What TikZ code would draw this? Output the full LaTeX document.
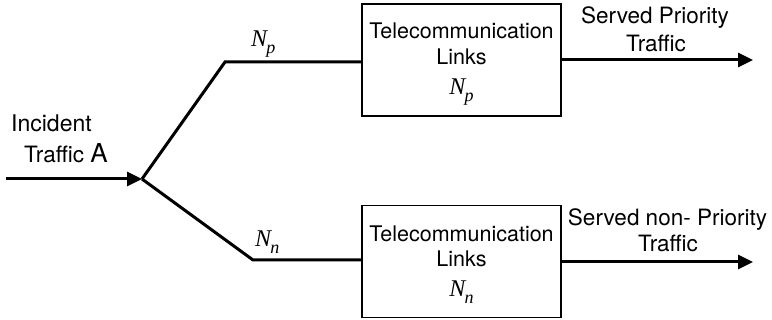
\documentclass[tikz,border=0pt]{standalone}
\usepackage{fontspec}
\setmainfont{TeX Gyre Heros}
\newfontfamily\tmsfont{Liberation Serif}
\usetikzlibrary{arrows.meta}
% italic N with a lowered subscript letter
\newcommand{\Nsub}[1]{{\tmsfont\itshape N\kern-0.04em\raisebox{-0.26em}{\fontsize{18}{18}\selectfont #1}}}
\begin{document}
\begin{tikzpicture}[x=1pt,y=-1pt,
  txt/.style={font=\fontsize{21.5}{21.5}\selectfont, inner sep=0pt, anchor=base},
  bigtxt/.style={font=\fontsize{22.5}{22.5}\selectfont, inner sep=0pt, anchor=base},
  mtxt/.style={font=\fontsize{24}{24}\selectfont, inner sep=0pt, anchor=base},
  wire/.style={line width=3pt},
  flow/.style={line width=3pt, -{Triangle[length=15pt,width=14pt]}},
  linkbox/.style={draw, line width=1.4pt, minimum width=199pt, minimum height=112pt, inner sep=0pt}]
\useasboundingbox (0,0) rectangle (772,320);

% incoming traffic
\coordinate (src) at (6,179);
\coordinate (split) at (142,179);
\node[bigtxt, font=\fontsize{23}{23}\selectfont, anchor=base west] (inc1) at (11,132) {Incident};
\node[bigtxt, anchor=base west] (inc2) at (24,163) {Traffic \fontsize{26}{26}\selectfont A};
\draw[flow] (src) -- (split);

% link groups
\node[linkbox] (boxp) at (461.5,60) {};
\node[linkbox] (boxn) at (461.5,261.5) {};

\node[txt] (tp1) at (461.5,39) {Telecommunication};
\node[txt] (tp2) at (461.5,65) {Links};
\node[mtxt] (tp3) at (461.5,95) {\Nsub{p}};
\node[txt] (tn1) at (461.5,242) {Telecommunication};
\node[txt] (tn2) at (461.5,267) {Links};
\node[mtxt] (tn3) at (461.5,297) {\Nsub{n}};

% branches into the link groups
\coordinate (cp) at (225,62);
\coordinate (cn) at (253,260);
\draw[wire] (split) -- (cp) -- (cp -| boxp.west);
\draw[wire] (split) -- (cn) -- (cn -| boxn.west);
\node[mtxt, anchor=base west] (lp) at (251,47) {\Nsub{p}};
\node[mtxt, anchor=base west] (ln) at (255,247) {\Nsub{n}};

% served traffic
\coordinate (outp) at (753,60);
\coordinate (outn) at (753,262);
\draw[flow] (boxp.east |- outp) -- (outp);
\draw[flow] (boxn.east |- outn) -- (outn);
\node[bigtxt] (sp1) at (655,24) {Served Priority};
\node[bigtxt] (sp2) at (656,52) {Traffic};
\node[bigtxt] (sn1) at (667.5,226) {Served non- Priority};
\node[bigtxt] (sn2) at (668,252) {Traffic};
\end{tikzpicture}
\end{document}
